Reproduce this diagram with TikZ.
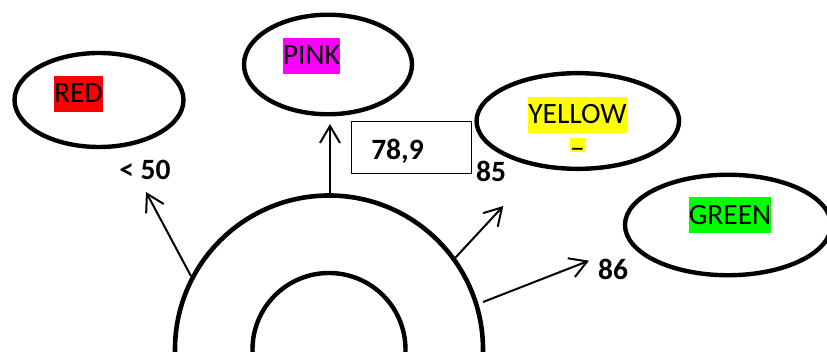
\documentclass[tikz,border=0pt]{standalone}
\usepackage{fontspec}
\setmainfont{Carlito}
\usetikzlibrary{arrows.meta,shapes.geometric}
\definecolor{hlred}{RGB}{255,0,0}
\definecolor{hlpink}{RGB}{255,0,255}
\definecolor{hlyellow}{RGB}{255,255,0}
\definecolor{hlgreen}{RGB}{0,255,0}
\begin{document}
\begin{tikzpicture}[x=1pt,y=-1pt,
  oval/.style={ellipse, draw, line width=4.4pt, inner sep=0},
  hl/.style={inner sep=0, text height=27pt, text depth=9pt, font=\fontsize{29.5}{35}\selectfont},
  lbl/.style={anchor=base, inner sep=0, font=\fontsize{29.5}{35}\selectfont\bfseries},
  arr/.style={line width=2pt, -{Straight Barb[length=17pt,width=20pt]}},
  ring/.style={circle, draw, inner sep=0}]
\useasboundingbox (0,0) rectangle (827,352);
\clip (0,0) rectangle (827,352);
% ellipses
\node[oval, minimum width=169pt, minimum height=94pt] (red) at (99,100) {};
\node[oval, minimum width=168pt, minimum height=99.5pt] (pink) at (328,64.5) {};
\node[oval, minimum width=202.5pt, minimum height=95.7pt] (yellow) at (577.8,121) {};
\node[oval, minimum width=206pt, minimum height=100.5pt] (green) at (728,225) {};
% highlighted texts
\node[hl, fill=hlred] (redtxt) at (78.5,94) {RED};
\node[hl, fill=hlpink] (pinktxt) at (311.5,55.8) {PINK};
\node[hl, fill=hlyellow] (yellowtxt) at (577.5,114.7) {YELLOW};
\node[fill=hlyellow, minimum width=15pt, minimum height=14pt, inner sep=0] (ydashbox) at (577.5,145) {};
\node[anchor=base, inner sep=0, font=\fontsize{29.5}{35}\selectfont] (ydash) at (577.5,158) {–};
\node[hl, fill=hlgreen] (greentxt) at (730,215.5) {GREEN};
% rings
\node[ring, line width=4.6pt, minimum size=308pt] (outer) at (329,349.5) {};
\node[ring, line width=4.4pt, minimum size=153pt] (inner) at (329,349.5) {};
% value box
\node[draw, line width=1pt, minimum width=120pt, minimum height=52.5pt, inner sep=0] (box) at (411.2,147.3) {};
\node[lbl] (v789) at (397.5,160) {78,9};
% labels
\node[lbl] (l50) at (145,180) {< 50};
\node[lbl] (l85) at (491,181.7) {85};
\node[lbl] (l86) at (613,280) {86};
% arrows
\coordinate (t50) at (146,192);
\coordinate (tpink) at (330,124);
\coordinate (t85) at (503.3,206);
\coordinate (t86) at (589,260.7);
\draw[arr] (outer.152) -- (t50);
\draw[arr] (outer.north -| tpink) -- (tpink);
\draw[arr] (outer.36) -- (t85);
\draw[arr, shorten <=5pt] (outer.17) -- (t86);
\end{tikzpicture}
\end{document}
